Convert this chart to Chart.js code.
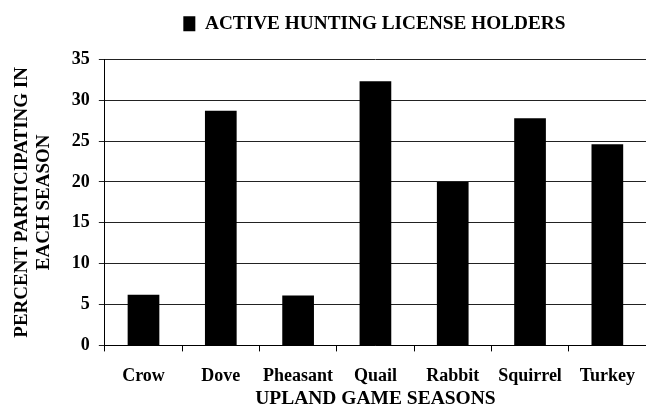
<!DOCTYPE html>
<html>
<head>
<meta charset="utf-8">
<script src="https://cdn.jsdelivr.net/npm/chart.js@4"></script>
<style>
  body { margin: 0; background: #fff; }
  #wrap { width: 646px; height: 407px; }
</style>
</head>
<body>
<div id="wrap"><canvas id="seasons"></canvas></div>
<script>
const seasons = ['Crow', 'Dove', 'Pheasant', 'Quail', 'Rabbit', 'Squirrel', 'Turkey'];
const percentActive = [6.2, 28.7, 6.1, 32.3, 20.0, 27.8, 24.6];
const seriesName = 'ACTIVE HUNTING LICENSE HOLDERS';
const yTicks = [0, 5, 10, 15, 20, 25, 30, 35];

const family = '"Liberation Serif", "Times New Roman", serif';
const tickFont = { family, weight: 'bold', size: 18, lineHeight: 1 };

// push the plot down under the legend and centre the legend over the plot
const legendTweak = {
  id: 'legendTweak',
  beforeInit(chart) {
    const fit = chart.legend.fit;
    chart.legend.fit = function () {
      fit.call(this);
      this.height += 16;
    };
  },
  afterLayout(chart) {
    const lg = chart.legend;
    lg.left = chart.chartArea.left - 1;
    lg.right = chart.chartArea.right - 1;
    lg.width = lg.right - lg.left;
  }
};

new Chart(document.getElementById('seasons'), {
  type: 'bar',
  data: {
    labels: seasons,
    datasets: [{
      label: seriesName,
      data: percentActive,
      backgroundColor: '#000',
      borderWidth: 0,
      categoryPercentage: 1,
      barPercentage: 0.41
    }]
  },
  plugins: [legendTweak],
  options: {
    responsive: true,
    maintainAspectRatio: false,
    animation: false,
    layout: { padding: { top: 0, right: 0, left: 10.5, bottom: 0 } },
    plugins: {
      tooltip: { enabled: false },
      legend: {
        position: 'top',
        labels: {
          color: '#000',
          font: { family, weight: 'bold', size: 19.3 },
          boxWidth: 12,
          boxHeight: 15,
          padding: 14
        }
      }
    },
    scales: {
      x: {
        offset: true,
        afterFit(axis) {
          // let the plot run to the right edge
          axis.paddingRight = 0;
        },
        grid: {
          display: true,
          drawOnChartArea: false,
          offset: true,
          color: '#000',
          tickLength: 6
        },
        border: { color: '#000', width: 1 },
        ticks: { color: '#000', font: tickFont, padding: 15.5, maxRotation: 0, autoSkip: false },
        title: {
          display: true,
          text: 'UPLAND GAME SEASONS',
          color: '#000',
          font: { family, weight: 'bold', size: 19.5, lineHeight: 0.8 },
          padding: { top: -9.5, bottom: 0.5 }
        }
      },
      y: {
        min: 0,
        max: 35,
        afterBuildTicks(axis) {
          axis.ticks = yTicks.map(v => ({ value: v }));
        },
        ticks: { color: '#000', font: tickFont, padding: 9 },
        grid: { color: '#222', lineWidth: 1, tickLength: 6 },
        border: { color: '#000', width: 1 },
        title: {
          display: true,
          text: ['PERCENT PARTICIPATING IN', 'EACH SEASON'],
          color: '#000',
          font: { family, weight: 'bold', size: 19, lineHeight: 1.18 },
          padding: { top: 0, bottom: 7.5 }
        }
      }
    }
  }
});
</script>
</body>
</html>
